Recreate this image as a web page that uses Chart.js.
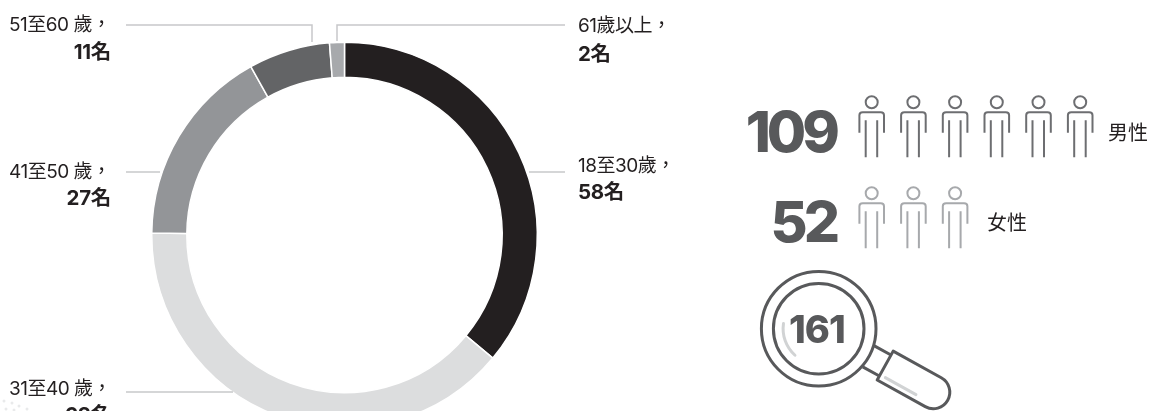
<!DOCTYPE html>
<html>
<head>
<meta charset="utf-8">
<script src="https://cdn.jsdelivr.net/npm/chart.js@4"></script>
<style>
    html, body { margin: 0; padding: 0; background: #fff; }
    body { position: relative; width: 1149px; height: 411px; overflow: hidden; font-family: Inter, "Noto Sans CJK TC", sans-serif; color: #231f20; }
    canvas { position: absolute; left: 0; top: 0; }
    .t { position: absolute; white-space: nowrap; line-height: 1; }
    .lab { font-size: 19px; letter-spacing: -0.5px; }
    .val { font-size: 20.5px; font-weight: 700; letter-spacing: -0.3px; }
    .big { font-weight: 800; color: #58595b; }
</style>
</head>
<body>
<canvas id="age-donut" width="1149" height="430"></canvas>
<div id="texts"></div>
<script>
const ageLabels = ['18至30歲，', '31至40 歲，', '41至50 歲，', '51至60 歲，', '61歲以上，'];
const ageCounts = [58, 63, 27, 11, 2];
const ageColors = ['#231f20', '#dcddde', '#939598', '#636466', '#a7a9ac'];
const genderLabels = ['男性', '女性'];
const genderCounts = [109, 52];
const genderIcons = [6, 3];
const totalCount = 161;

const GREY_LINE = '#c7c8ca';

// leader lines from the labels to the ring
const leaders = [
    [[565, 172], [529, 172]],
    [[126, 392], [233, 392]],
    [[126, 172], [160, 172]],
    [[126, 25], [312, 25], [312, 42]],
    [[565, 25], [337, 25], [337, 41]]
];

// faint specks in the bottom left corner of the source image
const specks = [[4, 401], [12, 403], [19, 406], [6, 409], [14, 410], [27, 409]];

function person(ctx, x, y, color) {
    ctx.strokeStyle = color;
    ctx.lineWidth = 2;
    ctx.beginPath();
    ctx.arc(x, y, 6, 0, Math.PI * 2);
    ctx.stroke();
    ctx.beginPath();
    ctx.moveTo(x - 12.3, y + 30.5);
    ctx.lineTo(x - 12.3, y + 13);
    ctx.quadraticCurveTo(x - 12.3, y + 10, x - 9, y + 10);
    ctx.lineTo(x + 9, y + 10);
    ctx.quadraticCurveTo(x + 12.3, y + 10, x + 12.3, y + 13);
    ctx.lineTo(x + 12.3, y + 30.5);
    ctx.moveTo(x - 6, y + 18);
    ctx.lineTo(x - 6, y + 55);
    ctx.moveTo(x + 5.5, y + 18);
    ctx.lineTo(x + 5.5, y + 55);
    ctx.stroke();
}

function magnifier(ctx) {
    const cx = 818.7, cy = 328.7;
    ctx.strokeStyle = '#58595b';
    ctx.lineWidth = 3;
    ctx.lineJoin = 'round';
    ctx.beginPath();
    ctx.arc(cx, cy, 57.3, 0, Math.PI * 2);
    ctx.stroke();
    ctx.beginPath();
    ctx.arc(cx, cy, 45.3, 0, Math.PI * 2);
    ctx.stroke();

    // neck and handle, drawn along the handle's own axis
    ctx.save();
    ctx.translate(cx, cy);
    ctx.rotate(29 * Math.PI / 180);
    ctx.beginPath();
    ctx.moveTo(57, -12);
    ctx.lineTo(76, -12);
    ctx.moveTo(57, 12);
    ctx.lineTo(76, 12);
    ctx.stroke();
    ctx.beginPath();
    ctx.moveTo(76, -16.5);
    ctx.lineTo(131, -16.5);
    ctx.arc(131, 0, 16.5, -Math.PI / 2, Math.PI / 2);
    ctx.lineTo(76, 16.5);
    ctx.closePath();
    ctx.stroke();
    ctx.strokeStyle = '#d1d3d4';
    ctx.lineCap = 'round';
    ctx.beginPath();
    ctx.moveTo(82, 10.5);
    ctx.lineTo(117, 10.5);
    ctx.stroke();
    ctx.restore();

    ctx.strokeStyle = '#d1d3d4';
    ctx.lineCap = 'round';
    ctx.beginPath();
    ctx.arc(cx, cy, 35.6, 2.3, 3.29);
    ctx.stroke();
    ctx.lineCap = 'butt';
}

const extras = {
    id: 'extras',
    afterDraw(chart) {
        const ctx = chart.ctx;
        ctx.save();
        ctx.strokeStyle = GREY_LINE;
        ctx.lineWidth = 1.5;
        leaders.forEach(pts => {
            ctx.beginPath();
            pts.forEach((p, i) => i ? ctx.lineTo(p[0], p[1]) : ctx.moveTo(p[0], p[1]));
            ctx.stroke();
        });
        ctx.fillStyle = '#e9eaeb';
        specks.forEach(p => {
            ctx.beginPath();
            ctx.arc(p[0], p[1], 1.5, 0, Math.PI * 2);
            ctx.fill();
        });
        for (let i = 0; i < genderIcons[0]; i++) person(ctx, 871.7 + i * 41.7, 102.3, '#6d6e71');
        for (let i = 0; i < genderIcons[1]; i++) person(ctx, 871.7 + i * 41.7, 193.3, '#a7a9ac');
        magnifier(ctx);
        ctx.restore();
    }
};

new Chart(document.getElementById('age-donut').getContext('2d'), {
    type: 'doughnut',
    data: {
        labels: ageLabels,
        datasets: [{
            data: ageCounts,
            backgroundColor: ageColors,
            borderColor: '#fff',
            borderWidth: 1.5
        }]
    },
    options: {
        responsive: false,
        animation: false,
        cutout: '81.8%',
        layout: { padding: { left: 151, right: 611, top: 40, bottom: 0 } },
        plugins: { legend: { display: false }, tooltip: { enabled: false } }
    },
    plugins: [extras]
});

// text layer
const texts = document.getElementById('texts');
function addText(cls, txt, style) {
    const d = document.createElement('div');
    d.className = 't ' + cls;
    d.textContent = txt;
    Object.assign(d.style, style);
    texts.appendChild(d);
}
addText('lab', ageLabels[3], { left: '9px', top: '15px' });
addText('val', ageCounts[3] + '名', { right: (1149 - 111) + 'px', top: '42px' });
addText('lab', ageLabels[2], { left: '9px', top: '162px' });
addText('val', ageCounts[2] + '名', { right: (1149 - 111) + 'px', top: '188px' });
addText('lab', ageLabels[1], { left: '9px', top: '379px' });
addText('val', ageCounts[1] + '名', { right: (1149 - 111) + 'px', top: '405px' });
addText('lab', ageLabels[4], { left: '578px', top: '16px' });
addText('val', ageCounts[4] + '名', { left: '578px', top: '44px' });
addText('lab', ageLabels[0], { left: '578px', top: '156px' });
addText('val', ageCounts[0] + '名', { left: '578px', top: '182px' });
addText('big', genderCounts[0], { right: (1149 - 836) + 'px', top: '103px', fontSize: '57px', letterSpacing: '-4px' });
addText('big', genderCounts[1], { right: (1149 - 836) + 'px', top: '193px', fontSize: '57px', letterSpacing: '-4px' });
addText('big', totalCount, { left: '789px', top: '310px', fontSize: '38px', letterSpacing: '-1px' });
addText('g', genderLabels[0], { left: '1108px', top: '123px', fontSize: '20px' });
addText('g', genderLabels[1], { left: '987px', top: '213px', fontSize: '20px' });
</script>
</body>
</html>
